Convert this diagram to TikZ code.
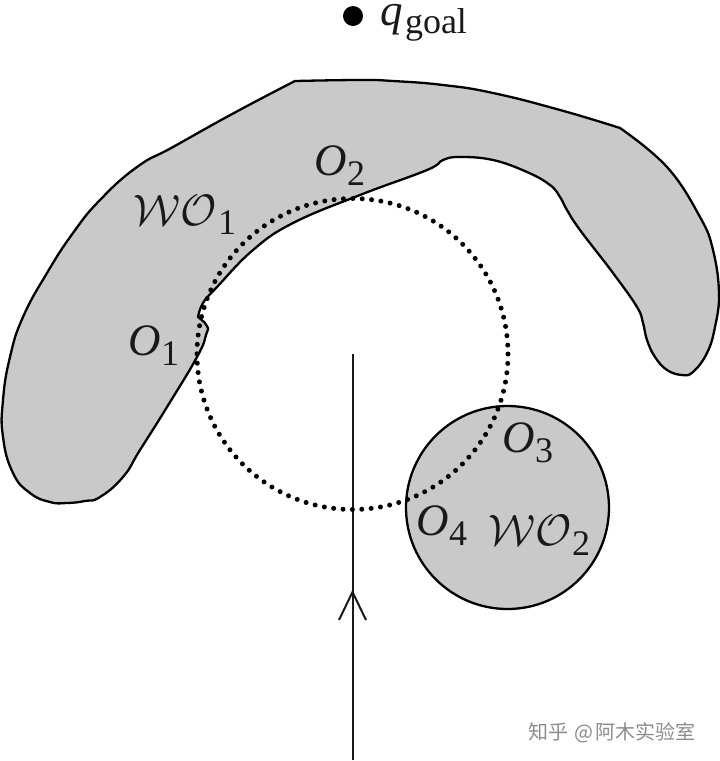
\documentclass[tikz,border=0pt]{standalone}
\usepackage{graphicx}
\usepackage{fontspec}
\setmainfont{Liberation Serif}
\newfontfamily\cjkfont{Noto Sans CJK SC}
\newcommand{\mainsize}{\fontsize{45}{45}\selectfont}
\newcommand{\subsize}{\fontsize{36}{36}\selectfont}
\definecolor{obstaclegray}{HTML}{C9C9C9}
\tikzset{
  obstacle/.style={draw=black,fill=obstaclegray,line width=2.3pt,line join=round},
  orbit/.style={draw=black,line width=5pt,line cap=round,dash pattern=on 0pt off 9.4pt},
  path line/.style={draw=black!90,line width=2pt},
  lbl/.style={anchor=base west,inner sep=0pt,outer sep=0pt,text=black!90},
  disc/.style={circle,inner sep=0pt,minimum size=#1}
}
\begin{document}
\begin{tikzpicture}[x=1pt,y=-1pt]
\useasboundingbox (0,0) rectangle (720,761);
% WO1
\path[obstacle]
  plot[smooth,tension=0.8] coordinates {(295,81) (234,113) (173,147) (137,167) (100,200) (73,233) (47,273) (23,317) (10,357) (3,400) (3,437) (13,473) (30,493) (50,502) (67,503) (85,501) (100,497) (123,477) (140,450) (167,407) (197,357) (206,335) (207,326) (198,317)}
  -- plot[smooth,tension=0.7] coordinates {(198,317) (203,303) (217,287) (253,250) (293,223) (360,195) (427,170) (443,160) (460,157) (493,160) (527,172) (550,185) (560,197) (567,210) (580,230) (613,273) (637,307) (643,323) (647,340) (655,357) (667,370) (682,375) (693,372) (707,353) (715,327) (719,293) (713,250) (700,217) (667,167) (620,128)}
  -- plot[smooth,tension=0.8] coordinates {(620,128) (560,110) (493,93) (443,85) (393,81) (360,80) (295,81)}
  -- cycle;
% WO2
\node[obstacle,circle,inner sep=0pt,minimum size=203pt] (wo2) at (507.5,507.5) {};
% trajectory
\coordinate (start) at (352.5,760);
\coordinate (center) at (352.5,354);
\coordinate (apex) at (352.5,592);
\coordinate (hl) at (339,620);
\coordinate (hr) at (366,620);
\draw[path line] (start) -- (center);
\draw[path line] (hl) -- (apex) -- (hr);
% dotted circle
\draw[orbit] (center) circle[radius=155.5];
% goal
\node[disc=20pt,fill=black] (goal) at (353,16) {};
\node[lbl] (q) at (380,25) {\mainsize\itshape q};
\node[lbl] (goaltext) at (405,33) {\subsize goal};
% labels
\node[lbl] (o1) at (128,355) {\mainsize\itshape O};
\node[lbl] (o1s) at (161,365) {\subsize 1};
\node[lbl] (o2) at (314,175) {\mainsize\itshape O};
\node[lbl] (o2s) at (347,185) {\subsize 2};
\node[lbl] (o3) at (502,452) {\mainsize\itshape O};
\node[lbl] (o3s) at (535,462) {\subsize 3};
\node[lbl] (o4) at (416,535) {\mainsize\itshape O};
\node[lbl] (o4s) at (449,545) {\subsize 4};
\node[lbl] (wo1) at (133,225) {\scalebox{4.4}{$\mathcal{WO}$}};
\node[lbl] (wo1s) at (218,234) {\subsize 1};
\node[lbl] (wo2l) at (488,545) {\scalebox{4.4}{$\mathcal{WO}$}};
\node[lbl] (wo2s) at (572,555) {\subsize 2};
% watermark
\node[anchor=base west,inner sep=0pt,text=black!45] (mark) at (528,739) {\cjkfont\fontsize{20}{20}\selectfont 知乎\hspace{6pt}@\hspace{2pt}阿木实验室};
\end{tikzpicture}
\end{document}
